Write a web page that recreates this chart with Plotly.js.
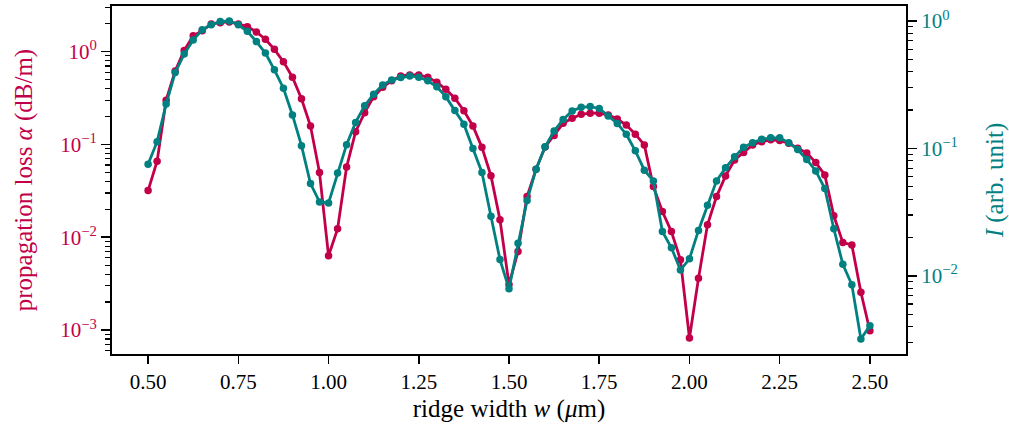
<!DOCTYPE html>
<html>
<head>
<meta charset="utf-8">
<script src="https://cdn.plot.ly/plotly-3.0.1.min.js"></script>
<style>html,body{margin:0;padding:0;background:#fff;}#chart{width:1009px;height:430px;}</style>
</head>
<body>
<div id="chart"></div>
<script>
// ridge width w (µm)
const ridgeWidth = [
  0.500,0.525,0.550,0.575,0.600,0.625,0.650,0.675,0.700,0.725,
  0.750,0.775,0.800,0.825,0.850,0.875,0.900,0.925,0.950,0.975,
  1.000,1.025,1.050,1.075,1.100,1.125,1.150,1.175,1.200,1.225,
  1.250,1.275,1.300,1.325,1.350,1.375,1.400,1.425,1.450,1.475,
  1.500,1.525,1.550,1.575,1.600,1.625,1.650,1.675,1.700,1.725,
  1.750,1.775,1.800,1.825,1.850,1.875,1.900,1.925,1.950,1.975,
  2.000,2.025,2.050,2.075,2.100,2.125,2.150,2.175,2.200,2.225,
  2.250,2.275,2.300,2.325,2.350,2.375,2.400,2.425,2.450,2.475,
  2.500
];
// propagation loss alpha (dB/m) - left axis
const propagationLoss = [
  0.0318,0.066,0.30,0.62,1.03,1.48,1.68,1.99,2.05,2.09,
  1.99,1.86,1.63,1.36,1.06,0.78,0.53,0.31,0.158,0.0497,
  0.0063,0.0123,0.057,0.137,0.22,0.327,0.413,0.487,0.547,0.561,
  0.561,0.53,0.468,0.393,0.315,0.231,0.158,0.093,0.046,0.0154,
  0.0031,0.0070,0.0274,0.054,0.094,0.125,0.169,0.191,0.211,0.217,
  0.217,0.208,0.188,0.162,0.129,0.0988,0.0351,0.0189,0.0115,0.0057,
  0.00082,0.0036,0.0136,0.0274,0.0458,0.068,0.0816,0.0988,0.107,0.112,
  0.110,0.103,0.091,0.081,0.0637,0.0469,0.017,0.00875,0.00826,0.00255,
  0.00098
];
// intensity I (arb. unit) - right axis
const intensity = [
  0.0752,0.113,0.223,0.394,0.55,0.71,0.854,0.935,0.99,1.0,
  0.935,0.83,0.69,0.56,0.414,0.297,0.183,0.105,0.053,0.038,
  0.0373,0.064,0.107,0.160,0.216,0.266,0.315,0.345,0.36,0.371,
  0.362,0.34,0.305,0.255,0.198,0.155,0.100,0.0647,0.0293,0.0134,
  0.0079,0.018,0.039,0.0687,0.103,0.137,0.169,0.197,0.21,0.213,
  0.206,0.18,0.157,0.129,0.0958,0.0675,0.0556,0.0223,0.0166,0.0111,
  0.0136,0.0227,0.0358,0.0556,0.0704,0.0859,0.102,0.111,0.118,0.121,
  0.121,0.111,0.098,0.0819,0.0666,0.0484,0.0234,0.0123,0.0085,0.00319,
  0.00406
];
const xTickVals = [0.5,0.75,1.0,1.25,1.5,1.75,2.0,2.25,2.5];
const xTickText = ["0.50","0.75","1.00","1.25","1.50","1.75","2.00","2.25","2.50"];
const leftTickVals = [1e-3,1e-2,1e-1,1];
const leftTickText = ["10<sup>−3</sup>","10<sup>−2</sup>","10<sup>−1</sup>","10<sup>0</sup>"];
const rightTickVals = [1e-2,1e-1,1];
const rightTickText = ["10<sup>−2</sup>","10<sup>−1</sup>","10<sup>0</sup>"];

const RED = "#c2004a";
const TEAL = "#008080";
const FONT = "Liberation Serif, DejaVu Serif, serif";
const TICK_SIZE = 21;
const TITLE_SIZE = 25;

function minorVals(lo, hi) {
  const v = [];
  for (let e = lo; e <= hi; e++) for (let d = 2; d <= 9; d++) v.push(d * Math.pow(10, e));
  return v;
}

const traces = [
  {x: ridgeWidth, y: propagationLoss, type: "scatter", mode: "lines+markers",
   line: {color: RED, width: 2.8}, marker: {color: RED, size: 7.5}, yaxis: "y", name: "alpha"},
  {x: ridgeWidth, y: intensity, type: "scatter", mode: "lines+markers",
   line: {color: TEAL, width: 2.8}, marker: {color: TEAL, size: 7.5}, yaxis: "y2", name: "I"}
];

const layout = {
  width: 1009, height: 430,
  margin: {l: 112, r: 103, t: 6, b: 76},
  paper_bgcolor: "#fff", plot_bgcolor: "#fff",
  showlegend: false,
  font: {family: FONT, size: TICK_SIZE, color: "#000"},
  xaxis: {
    range: [0.4, 2.6], tickmode: "array", tickvals: xTickVals, ticktext: xTickText,
    ticks: "outside", ticklen: 8, tickwidth: 1.5, tickcolor: "#000",
    showline: true, linecolor: "#000", linewidth: 2, mirror: true,
    showgrid: false, zeroline: false,
    tickfont: {family: FONT, size: TICK_SIZE, color: "#000"},
    title: {text: "ridge width <i>w</i> (<i>μ</i>m)", font: {family: FONT, size: TITLE_SIZE, color: "#000"}, standoff: 6}
  },
  yaxis: {
    type: "log", range: [-3.259, 0.492],
    tickmode: "array", tickvals: leftTickVals, ticktext: leftTickText,
    ticks: "outside", ticklen: 9, tickwidth: 1.5, tickcolor: "#000",
    minor: {tickmode: "array", tickvals: minorVals(-4, 0), ticks: "outside", ticklen: 5, tickwidth: 1.2, tickcolor: "#000", showgrid: false},
    showline: true, linecolor: "#000", linewidth: 2,
    showgrid: false, zeroline: false,
    tickfont: {family: FONT, size: TICK_SIZE, color: RED},
    title: {text: "propagation loss <i>α</i> (dB/m)", font: {family: FONT, size: TITLE_SIZE, color: RED}, standoff: 20}
  },
  yaxis2: {
    type: "log", range: [-2.614, 0.118], overlaying: "y", side: "right",
    tickmode: "array", tickvals: rightTickVals, ticktext: rightTickText,
    ticks: "outside", ticklen: 9, tickwidth: 1.5, tickcolor: "#000",
    minor: {tickmode: "array", tickvals: minorVals(-3, 0), ticks: "outside", ticklen: 5, tickwidth: 1.2, tickcolor: "#000", showgrid: false},
    showline: true, linecolor: "#000", linewidth: 2,
    showgrid: false, zeroline: false,
    tickfont: {family: FONT, size: TICK_SIZE, color: TEAL},
    title: {text: "<i>I</i> (arb. unit)", font: {family: FONT, size: TITLE_SIZE, color: TEAL}, standoff: 30}
  }
};

Plotly.newPlot("chart", traces, layout, {displayModeBar: false, staticPlot: true});
</script>
</body>
</html>
